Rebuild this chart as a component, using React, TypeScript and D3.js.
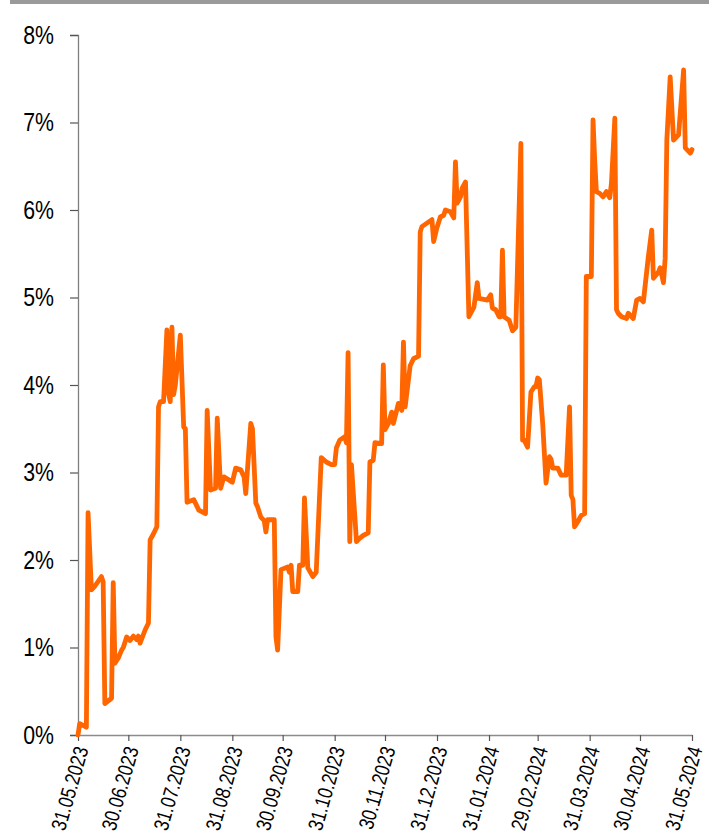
import React, { useRef, useEffect } from 'react';
import * as d3 from 'd3';

// days after 31.05.2023
const dayOffsets = [
  0, 1, 5, 6, 8, 10, 14, 15, 16, 20, 21, 22, 24, 26, 27, 29, 31, 33, 35, 36, 37, 40, 42, 43, 45, 47,
  48, 49, 51, 53, 54, 55, 56, 57, 58, 61, 63, 64, 65, 69, 72, 76, 77, 79, 82, 83, 85, 87, 92, 94,
  97, 99, 100, 103, 104, 106, 107, 109, 111, 112, 113, 117, 118, 119, 121, 125, 126, 127, 128, 131,
  132, 134, 135, 137, 140, 142, 145, 148, 151, 153, 154, 156, 159, 160, 161, 162, 163, 166, 168, 170,
  173, 174, 176, 177, 181, 182, 183, 185, 187, 188, 191, 193, 194, 195, 198, 200, 203, 204, 205, 211,
  212, 214, 216, 218, 219, 222, 224, 225, 226, 228, 229, 231, 233, 236, 238, 239, 244, 246, 247, 249,
  251, 252, 253, 254, 257, 259, 261, 264, 265, 266, 268, 270, 272, 273, 274, 275, 277, 279, 281, 282,
  283, 286, 288, 291, 293, 294, 295, 296, 298, 300, 302, 303, 306, 307, 308, 309, 311, 313, 315, 317,
  318, 320, 321, 322, 324, 327, 328, 331, 333, 335, 337, 340, 342, 343, 346, 347, 349, 350, 351, 353,
  355, 358, 361, 362, 365, 366,
];

// value in %
const values = [
  0.0, 0.13, 0.09, 2.54, 1.66, 1.7, 1.81, 1.75, 0.36, 0.42, 1.74, 0.82, 0.88, 0.97, 1.0, 1.12, 1.08,
  1.13, 1.09, 1.13, 1.05, 1.2, 1.28, 2.23, 2.3, 2.38,
  3.75, 3.81, 3.81, 4.63, 3.9, 3.81, 4.66, 3.89, 4.0, 4.57, 3.52, 3.5, 2.66, 2.69, 2.57, 2.53, 3.71,
  2.8, 2.82, 3.62, 2.82, 2.95, 2.89, 3.05,
  3.03, 2.95, 2.76, 3.56, 3.5, 2.65, 2.61, 2.49, 2.45, 2.32, 2.46, 2.46, 1.12, 0.97, 1.89, 1.92, 1.86,
  1.94, 1.64, 1.64,
  1.94, 1.94, 2.71, 1.91, 1.81, 1.86, 3.17, 3.12, 3.09, 3.09, 3.28, 3.37, 3.41, 3.34, 4.37, 2.21, 3.09,
  2.21, 2.25, 2.28,
  2.31, 3.12, 3.14, 3.34, 3.33, 4.23, 3.49, 3.56, 3.69, 3.56, 3.79, 3.71, 4.49, 3.75, 4.22, 4.3, 4.33,
  5.75, 5.81, 5.89,
  5.64, 5.8, 5.92, 5.94, 6.0, 5.98, 5.91, 6.55, 6.08, 6.15, 6.25, 6.32, 4.78, 4.89, 5.17, 4.99, 4.97,
  5.03, 4.88, 4.86,
  4.78, 4.78, 5.54, 4.78, 4.74, 4.62, 4.66, 6.76, 3.37, 3.37, 3.29, 3.92, 3.98, 3.98, 4.08, 4.06, 3.56,
  2.88, 3.18, 3.15,
  3.05, 3.05, 2.97, 2.97, 3.75, 2.74, 2.69, 2.38, 2.44, 2.51, 2.53, 5.24, 5.24, 7.03, 6.57, 6.21, 6.19,
  6.15, 6.21, 6.14,
  6.31, 7.05, 4.86, 4.82, 4.78, 4.76, 4.82, 4.76, 4.97, 4.99, 4.95, 5.47, 5.77, 5.22, 5.29, 5.34, 5.17,
  5.45, 6.8, 7.52,
  6.8, 6.86, 7.6, 6.71, 6.65, 6.69,
];

const tickDates = [
  '2023-05-31', '2023-06-30', '2023-07-31', '2023-08-31', '2023-09-30', '2023-10-31', '2023-11-30',
  '2023-12-31', '2024-01-31', '2024-02-29', '2024-03-31', '2024-04-30', '2024-05-31',
];

const yTicks = [0, 1, 2, 3, 4, 5, 6, 7, 8];

const W = 709;
const H = 840;
const margin = { top: 35, right: 17, bottom: 105, left: 78 };

export default function App() {
  const ref = useRef<SVGSVGElement>(null);

  useEffect(() => {
    const svg = d3.select(ref.current);
    svg.selectAll('*').remove();

    const parse = d3.timeParse('%Y-%m-%d');
    const start = parse('2023-05-31') as Date;
    const end = parse('2024-05-31') as Date;
    const data = dayOffsets.map((d, i) => ({ date: d3.timeDay.offset(start, d), value: values[i] }));

    const x = d3.scaleTime().domain([start, end]).range([margin.left, W - margin.right]);
    const y = d3.scaleLinear().domain([0, 8]).range([H - margin.bottom, margin.top]);
    const fmt = d3.timeFormat('%d.%m.%Y');

    // grey band on top
    svg.append('rect').attr('x', 10).attr('y', 0).attr('width', W - 10).attr('height', 4).attr('fill', '#9a9a9a');

    // no narrow font installed, so squeeze the glyphs by hand
    const font = '"Liberation Sans", Arial, sans-serif';

    // y axis
    const gy = svg.append('g').attr('transform', `translate(${margin.left},0)`)
      .call(d3.axisLeft(y).tickValues(yTicks).tickSize(8).tickFormat(d => `${d}%`));
    gy.select('.domain').attr('stroke', '#7f7f7f').attr('stroke-width', 1.3);
    gy.selectAll('.tick line').attr('stroke', '#555').attr('stroke-width', 1.2);
    gy.selectAll('.tick text')
      .attr('font-family', font).attr('font-size', 26).attr('fill', '#000')
      .attr('x', 0).attr('text-anchor', 'end')
      .attr('transform', 'translate(-24,0) scale(0.82,1)');

    // x axis
    const gx = svg.append('g').attr('transform', `translate(0,${H - margin.bottom})`)
      .call(d3.axisBottom(x).tickValues(tickDates.map(d => parse(d) as Date)).tickSize(6).tickSizeOuter(0)
        .tickFormat(d => fmt(d as Date)));
    gx.select('.domain').attr('stroke', '#8c8c8c').attr('stroke-width', 1.3);
    gx.selectAll('.tick line').attr('stroke', '#555').attr('stroke-width', 1.2);
    gx.selectAll('.tick text')
      .attr('font-family', font).attr('font-size', 21).attr('fill', '#000')
      .attr('text-anchor', 'end')
      .attr('y', 0).attr('dy', '0.35em')
      .attr('transform', 'translate(3,12) rotate(-74) scale(0.82,1)');

    const line = d3.line<{ date: Date; value: number }>()
      .x(d => x(d.date))
      .y(d => y(d.value));

    svg.append('path')
      .datum(data)
      .attr('d', line)
      .attr('fill', 'none')
      .attr('stroke', '#ff6600')
      .attr('stroke-width', 4.8)
      .attr('stroke-linejoin', 'round')
      .attr('stroke-linecap', 'round');
  }, []);

  return (
    <svg ref={ref} width={W} height={H} style={{ position: 'absolute', left: 0, top: 0, background: '#fff' }} />
  );
}
